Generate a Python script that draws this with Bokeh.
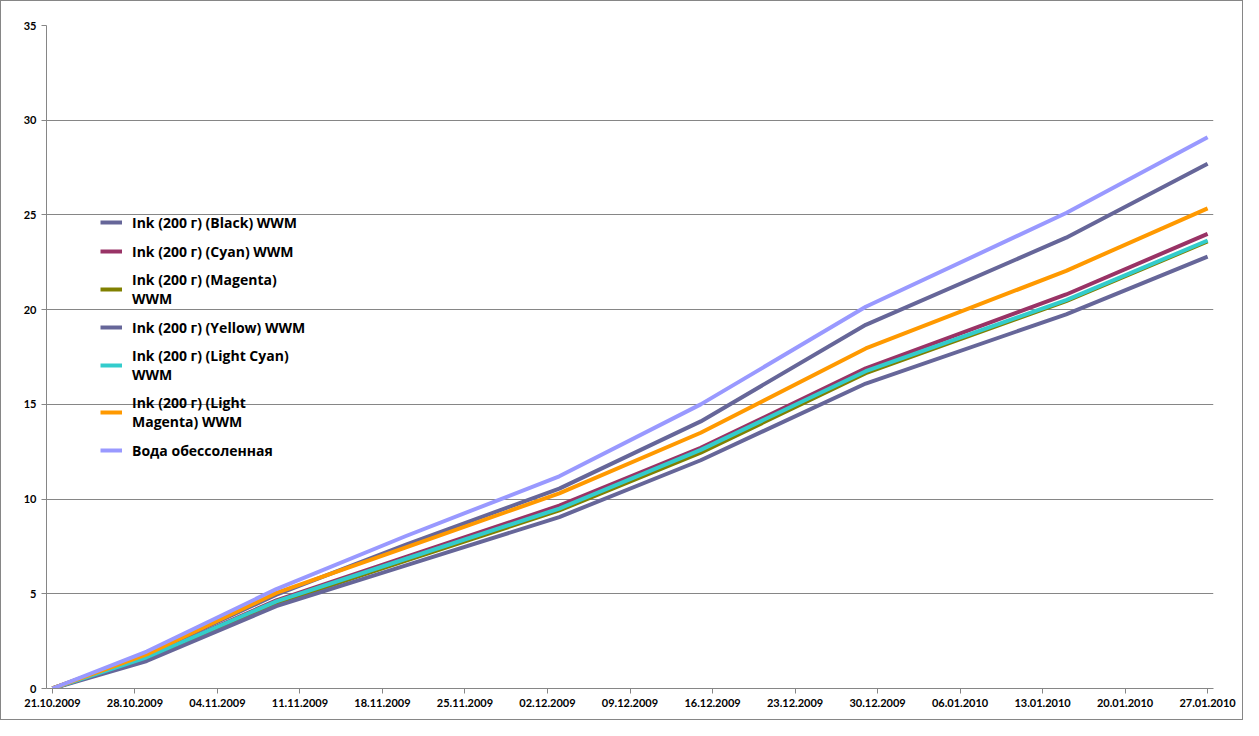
from datetime import datetime, timedelta
from bokeh.plotting import figure
from bokeh.models import FixedTicker, DatetimeTickFormatter, Legend, LegendItem, Range1d
from bokeh.embed import file_html
from bokeh.resources import INLINE

# ---- data ----
dates = ["21.10.2009", "29.10.2009", "09.11.2009", "20.11.2009", "03.12.2009",
         "15.12.2009", "29.12.2009", "15.01.2010", "27.01.2010"]
black = [0, 1.80, 4.95, 7.60, 10.55, 14.10, 19.20, 23.80, 27.70]
cyan = [0, 1.65, 4.65, 6.95, 9.65, 12.70, 16.90, 20.80, 24.00]
magenta = [0, 1.60, 4.50, 6.75, 9.40, 12.45, 16.65, 20.45, 23.60]
yellow = [0, 1.45, 4.35, 6.50, 9.05, 12.05, 16.10, 19.75, 22.80]
light_cyan = [0, 1.65, 4.60, 6.85, 9.50, 12.60, 16.75, 20.50, 23.65]
light_magenta = [0, 1.80, 5.05, 7.45, 10.30, 13.50, 17.95, 22.05, 25.35]
water = [0, 1.95, 5.25, 8.05, 11.20, 15.00, 20.15, 25.10, 29.10]

series_names = ["Ink (200 г) (Black) WWM", "Ink (200 г) (Cyan) WWM",
                "Ink (200 г) (Magenta)\nWWM", "Ink (200 г) (Yellow) WWM",
                "Ink (200 г) (Light Cyan)\nWWM", "Ink (200 г) (Light\nMagenta) WWM",
                "Вода обессоленная"]
series_values = [black, cyan, magenta, yellow, light_cyan, light_magenta, water]
series_colors = ["#666699", "#993366", "#808000", "#666699", "#33CCCC", "#FF9900", "#9999FF"]

tick_labels = ["21.10.2009", "28.10.2009", "04.11.2009", "11.11.2009", "18.11.2009",
               "25.11.2009", "02.12.2009", "09.12.2009", "16.12.2009", "23.12.2009",
               "30.12.2009", "06.01.2010", "13.01.2010", "20.01.2010", "27.01.2010"]
y_ticks = [0, 5, 10, 15, 20, 25, 30, 35]

# ---- build ----
def to_dt(s):
    return datetime.strptime(s, "%d.%m.%Y")

xs = [to_dt(d) for d in dates]
tick_ms = [to_dt(t).timestamp() * 1000 for t in tick_labels]
x0 = to_dt(dates[0]) - timedelta(hours=12)
x1 = to_dt(dates[-1]) + timedelta(hours=12)

p = figure(width=1243, height=720, x_axis_type="datetime",
           output_backend="svg", toolbar_location=None,
           x_range=Range1d(x0, x1), y_range=Range1d(0, 35),
           min_border_left=45, min_border_right=31, min_border_top=24, min_border_bottom=33)
p.outline_line_color = None
p.background_fill_color = "white"
p.border_fill_color = "white"
p.styles = {"border": "1px solid #868686"}

p.xgrid.grid_line_color = None
p.ygrid.grid_line_color = "#868686"
p.ygrid.grid_line_width = 1

p.xaxis.ticker = FixedTicker(ticks=tick_ms)
p.xaxis.formatter = DatetimeTickFormatter(days="%d.%m.%Y", months="%d.%m.%Y", years="%d.%m.%Y")
p.yaxis.ticker = FixedTicker(ticks=y_ticks)
for ax in (p.xaxis, p.yaxis):
    ax.axis_line_color = "#868686"
    ax.major_tick_line_color = "#868686"
    ax.major_tick_in = 0
    ax.major_tick_out = 5
    ax.minor_tick_line_color = None
    ax.major_label_text_font = "Lato"
    ax.major_label_text_font_style = "bold"
    ax.major_label_text_font_size = "11px"
    ax.major_label_text_color = "#000000"
p.xaxis.major_label_standoff = 5
p.yaxis.major_label_standoff = 5

items = []
for name, vals, col in zip(series_names, series_values, series_colors):
    r = p.line(xs, vals, line_color=col, line_width=4, line_join="round")
    items.append(LegendItem(label=name, renderers=[r]))

legend = Legend(items=items, location=(54, 228), orientation="vertical",
                background_fill_alpha=0, border_line_color=None,
                label_text_font="Open Sans", label_text_font_style="bold",
                label_text_font_size="14px", label_text_line_height=1.15,
                label_text_color="#000000",
                glyph_width=22, glyph_height=14, label_standoff=10, spacing=9,
                padding=0, margin=0, label_height=20)
p.add_layout(legend, "center")

open("out.html", "w").write(file_html(p, INLINE))
